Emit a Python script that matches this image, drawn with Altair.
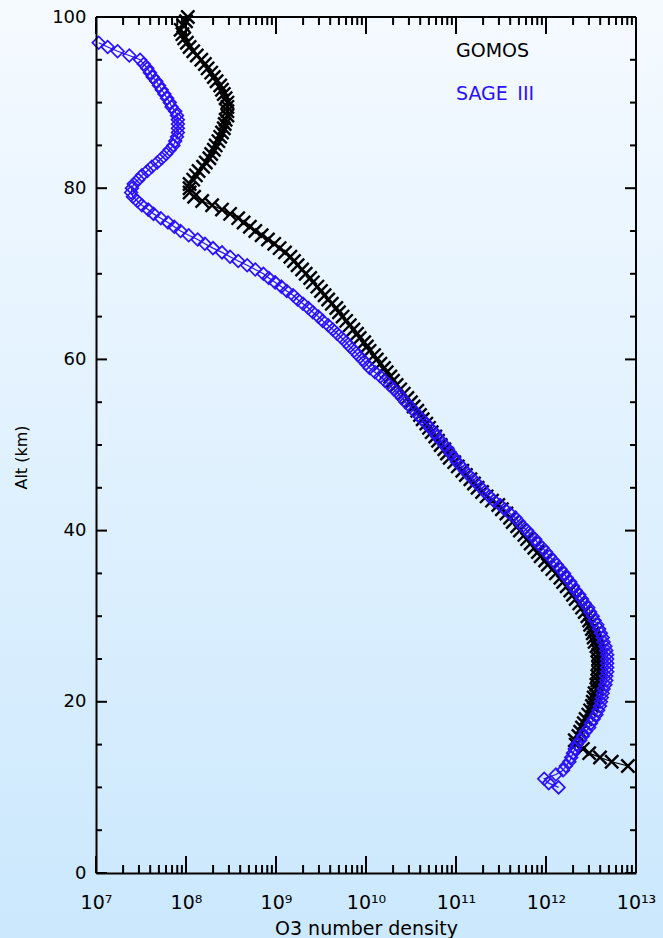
import altair as alt
import numpy as np
import pandas as pd

# ---------------- data ----------------
gomos_alt = [
    12.5, 13.0, 13.5, 14.0, 14.5, 15.0, 15.5, 16.0, 16.5, 17.0,
    17.5, 18.0, 18.5, 19.0, 19.5, 20.0, 20.5, 21.0, 21.5, 22.0,
    22.5, 23.0, 23.5, 24.0, 24.5, 25.0, 25.5, 26.0, 26.5, 27.0,
    27.5, 28.0, 28.5, 29.0, 29.5, 30.0, 30.5, 31.0, 31.5, 32.0,
    32.5, 33.0, 33.5, 34.0, 34.5, 35.0, 35.5, 36.0, 36.5, 37.0,
    37.5, 38.0, 38.5, 39.0, 39.5, 40.0, 40.5, 41.0, 41.5, 42.0,
    42.5, 43.0, 43.5, 44.0, 44.5, 45.0, 45.5, 46.0, 46.5, 47.0,
    47.5, 48.0, 48.5, 49.0, 49.5, 50.0, 50.5, 51.0, 51.5, 52.0,
    52.5, 53.0, 53.5, 54.0, 54.5, 55.0, 55.5, 56.0, 56.5, 57.0,
    57.5, 58.0, 58.5, 59.0, 59.5, 60.0, 60.5, 61.0, 61.5, 62.0,
    62.5, 63.0, 63.5, 64.0, 64.5, 65.0, 65.5, 66.0, 66.5, 67.0,
    67.5, 68.0, 68.5, 69.0, 69.5, 70.0, 70.5, 71.0, 71.5, 72.0,
    72.5, 73.0, 73.5, 74.0, 74.5, 75.0, 75.5, 76.0, 76.5, 77.0,
    77.5, 78.0, 78.5, 79.0, 79.5, 80.0, 80.5, 81.0, 81.5, 82.0,
    82.5, 83.0, 83.5, 84.0, 84.5, 85.0, 85.5, 86.0, 86.5, 87.0,
    87.5, 88.0, 88.5, 89.0, 89.5, 90.0, 90.5, 91.0, 91.5, 92.0,
    92.5, 93.0, 93.5, 94.0, 94.5, 95.0, 95.5, 96.0, 96.5, 97.0,
    97.5, 98.0, 98.5, 99.0, 99.5, 100.0,
]
gomos_log10 = [
    12.91, 12.73, 12.60, 12.48, 12.41, 12.33, 12.32, 12.36, 12.38, 12.40,
    12.42, 12.44, 12.47, 12.49, 12.51, 12.52, 12.53, 12.54, 12.56, 12.56,
    12.57, 12.57, 12.58, 12.58, 12.58, 12.58, 12.58, 12.57, 12.56, 12.54,
    12.53, 12.52, 12.51, 12.49, 12.48, 12.46, 12.43, 12.40, 12.37, 12.33,
    12.30, 12.27, 12.23, 12.19, 12.16, 12.11, 12.07, 12.02, 11.99, 11.94,
    11.91, 11.87, 11.83, 11.79, 11.76, 11.71, 11.68, 11.63, 11.60, 11.56,
    11.51, 11.47, 11.40, 11.34, 11.29, 11.24, 11.20, 11.16, 11.11, 11.07,
    11.02, 10.98, 10.93, 10.90, 10.87, 10.83, 10.80, 10.77, 10.73, 10.70,
    10.67, 10.63, 10.60, 10.57, 10.53, 10.50, 10.46, 10.42, 10.38, 10.34,
    10.30, 10.27, 10.23, 10.20, 10.16, 10.12, 10.09, 10.04, 10.01, 9.98,
    9.93, 9.90, 9.86, 9.82, 9.78, 9.74, 9.70, 9.67, 9.62, 9.58,
    9.54, 9.50, 9.46, 9.41, 9.38, 9.33, 9.29, 9.24, 9.20, 9.16,
    9.10, 9.04, 8.98, 8.91, 8.84, 8.77, 8.71, 8.64, 8.58, 8.49,
    8.40, 8.29, 8.18, 8.09, 8.04, 8.04, 8.04, 8.08, 8.11, 8.14,
    8.19, 8.22, 8.26, 8.28, 8.31, 8.33, 8.36, 8.38, 8.40, 8.42,
    8.43, 8.44, 8.46, 8.46, 8.46, 8.46, 8.44, 8.42, 8.40, 8.38,
    8.34, 8.31, 8.28, 8.24, 8.21, 8.17, 8.12, 8.08, 8.04, 8.01,
    7.98, 7.96, 7.94, 7.97, 8.00, 8.02,
]

sage_alt = [
    10.0, 10.5, 11.0, 11.5, 12.0, 12.5, 13.0, 13.5, 14.0, 14.5,
    15.0, 15.5, 16.0, 16.5, 17.0, 17.5, 18.0, 18.5, 19.0, 19.5,
    20.0, 20.5, 21.0, 21.5, 22.0, 22.5, 23.0, 23.5, 24.0, 24.5,
    25.0, 25.5, 26.0, 26.5, 27.0, 27.5, 28.0, 28.5, 29.0, 29.5,
    30.0, 30.5, 31.0, 31.5, 32.0, 32.5, 33.0, 33.5, 34.0, 34.5,
    35.0, 35.5, 36.0, 36.5, 37.0, 37.5, 38.0, 38.5, 39.0, 39.5,
    40.0, 40.5, 41.0, 41.5, 42.0, 42.5, 43.0, 43.5, 44.0, 44.5,
    45.0, 45.5, 46.0, 46.5, 47.0, 47.5, 48.0, 48.5, 49.0, 49.5,
    50.0, 50.5, 51.0, 51.5, 52.0, 52.5, 53.0, 53.5, 54.0, 54.5,
    55.0, 55.5, 56.0, 56.5, 57.0, 57.5, 58.0, 58.5, 59.0, 59.5,
    60.0, 60.5, 61.0, 61.5, 62.0, 62.5, 63.0, 63.5, 64.0, 64.5,
    65.0, 65.5, 66.0, 66.5, 67.0, 67.5, 68.0, 68.5, 69.0, 69.5,
    70.0, 70.5, 71.0, 71.5, 72.0, 72.5, 73.0, 73.5, 74.0, 74.5,
    75.0, 75.5, 76.0, 76.5, 77.0, 77.5, 78.0, 78.5, 79.0, 79.5,
    80.0, 80.5, 81.0, 81.5, 82.0, 82.5, 83.0, 83.5, 84.0, 84.5,
    85.0, 85.5, 86.0, 86.5, 87.0, 87.5, 88.0, 88.5, 89.0, 89.5,
    90.0, 90.5, 91.0, 91.5, 92.0, 92.5, 93.0, 93.5, 94.0, 94.5,
    95.0, 95.5, 96.0, 96.5, 97.0,
]
sage_log10 = [
    12.14, 12.03, 11.98, 12.11, 12.19, 12.22, 12.26, 12.28, 12.30, 12.32,
    12.34, 12.38, 12.41, 12.44, 12.48, 12.50, 12.53, 12.56, 12.58, 12.60,
    12.61, 12.62, 12.63, 12.64, 12.66, 12.67, 12.67, 12.68, 12.68, 12.68,
    12.68, 12.68, 12.67, 12.66, 12.64, 12.63, 12.61, 12.59, 12.57, 12.54,
    12.52, 12.49, 12.47, 12.43, 12.40, 12.37, 12.33, 12.30, 12.27, 12.23,
    12.20, 12.16, 12.12, 12.08, 12.04, 12.00, 11.96, 11.91, 11.88, 11.83,
    11.79, 11.74, 11.70, 11.66, 11.60, 11.54, 11.49, 11.42, 11.37, 11.32,
    11.28, 11.23, 11.19, 11.14, 11.10, 11.06, 11.01, 10.98, 10.94, 10.91,
    10.87, 10.83, 10.79, 10.76, 10.71, 10.67, 10.62, 10.58, 10.53, 10.49,
    10.44, 10.40, 10.36, 10.31, 10.26, 10.21, 10.16, 10.10, 10.04, 10.00,
    9.96, 9.91, 9.87, 9.82, 9.78, 9.73, 9.68, 9.63, 9.58, 9.52,
    9.47, 9.41, 9.36, 9.30, 9.24, 9.19, 9.12, 9.06, 8.99, 8.92,
    8.86, 8.77, 8.68, 8.58, 8.49, 8.40, 8.30, 8.21, 8.13, 8.03,
    7.94, 7.87, 7.80, 7.72, 7.64, 7.58, 7.51, 7.46, 7.41, 7.39,
    7.40, 7.42, 7.47, 7.51, 7.57, 7.62, 7.68, 7.73, 7.78, 7.82,
    7.86, 7.88, 7.90, 7.91, 7.91, 7.91, 7.91, 7.90, 7.88, 7.84,
    7.82, 7.79, 7.76, 7.73, 7.70, 7.67, 7.63, 7.60, 7.57, 7.53,
    7.49, 7.37, 7.24, 7.13, 7.03,
]

x_major = [1e7, 1e8, 1e9, 1e10, 1e11, 1e12, 1e13]
x_labels = ["10\u2077", "10\u2078", "10\u2079", "10\u00b9\u2070",
            "10\u00b9\u00b9", "10\u00b9\u00b2", "10\u00b9\u00b3"]
x_minor = [m * 10.0 ** e for e in range(7, 13) for m in range(2, 10)]
y_major = [0, 20, 40, 60, 80, 100]
y_minor = [5, 10, 15, 25, 30, 35, 45, 50, 55, 65, 70, 75, 85, 90, 95]
legend_labels = ["GOMOS", "SAGE\u2002III"]

# ---------------- styling ----------------
FONT = "DejaVu Sans"
BLUE = "#2b10ff"
W, H = 540, 856
CROSS = "M-1,-1L1,1M-1,1L1,-1"

gomos = pd.DataFrame({"alt": gomos_alt, "density": 10.0 ** np.array(gomos_log10)})
sage = pd.DataFrame({"alt": sage_alt, "density": 10.0 ** np.array(sage_log10)})

xscale = alt.Scale(type="log", domain=[1e7, 1e13], nice=False)
yscale = alt.Scale(domain=[0, 100], nice=False, zero=False)

expo = "round(log(datum.value)/LN10)"
label_expr = "".join(f"{expo} == {7 + i} ? '{lab}' : " for i, lab in enumerate(x_labels)) + "''"

common = dict(grid=False, zindex=1, domainColor="black", domainWidth=2,
              ticks=False, tickSize=0, domain=True, labelFlush=False,
              labelOverlap=False, labelColor="black", labelFont=FONT,
              titleFont=FONT, titleFontWeight="normal", titleColor="black")

x_label_axis = alt.Axis(
    orient="bottom", values=x_major, labelExpr=label_expr,
    labelFontSize=19, labelPadding=20,
    title="O3 number density", titleFontSize=19, titlePadding=7, **common)
y_label_axis = alt.Axis(
    orient="left", values=y_major, labelFontSize=18, labelPadding=10,
    title="Alt (km)", titleFontSize=16, titlePadding=22, titleY=440, **common)

gradient = alt.Gradient(
    gradient="linear", x1=0, x2=0, y1=0, y2=1,
    stops=[alt.GradientStop(color="#f5faff", offset=0),
           alt.GradientStop(color="#cbe8fd", offset=1)])

bg = alt.Chart(pd.DataFrame({"k": [0]})).mark_rect(fill=gradient).encode(
    x=alt.value(-96), x2=alt.value(W + 27), y=alt.value(-17), y2=alt.value(H + 65))

g_line = alt.Chart(gomos).mark_line(color="black", strokeWidth=1.2).encode(
    x=alt.X("density:Q", scale=xscale, axis=x_label_axis),
    y=alt.Y("alt:Q", scale=yscale, axis=y_label_axis),
    order="alt:Q")
g_pts = alt.Chart(gomos).mark_point(shape=CROSS, size=175, strokeWidth=2.4,
                                    color="black", filled=False, opacity=1).encode(
    x=alt.X("density:Q", scale=xscale, axis=x_label_axis),
    y=alt.Y("alt:Q", scale=yscale, axis=y_label_axis))
s_line = alt.Chart(sage).mark_line(color=BLUE, strokeWidth=1.2).encode(
    x=alt.X("density:Q", scale=xscale, axis=x_label_axis),
    y=alt.Y("alt:Q", scale=yscale, axis=y_label_axis),
    order="alt:Q")
s_pts = alt.Chart(sage).mark_point(shape="diamond", size=160, strokeWidth=1.7,
                                   color=BLUE, filled=False, opacity=1).encode(
    x=alt.X("density:Q", scale=xscale, axis=x_label_axis),
    y=alt.Y("alt:Q", scale=yscale, axis=y_label_axis))


# inward-pointing tick marks on all four sides, placed through the scales
def xticks(values, y0, y1):
    return alt.Chart(pd.DataFrame({"density": values})).mark_rule(
        color="black", strokeWidth=2).encode(
        x=alt.X("density:Q", scale=xscale, axis=x_label_axis),
        y=alt.value(y0), y2=alt.value(y1))


def yticks(values, x0, x1):
    return alt.Chart(pd.DataFrame({"alt": values})).mark_rule(
        color="black", strokeWidth=2).encode(
        y=alt.Y("alt:Q", scale=yscale, axis=y_label_axis),
        x=alt.value(x0), x2=alt.value(x1))


ticks = [
    xticks(x_major, H, H - 17), xticks(x_minor, H, H - 8),
    xticks(x_major, 0, 17), xticks(x_minor, 0, 8),
    yticks(y_major, 0, 11), yticks(y_minor, 0, 6),
    yticks(y_major, W, W - 11), yticks(y_minor, W, W - 6),
    # top and right edges of the frame (at 100 km and at 10^13)
    yticks(y_major[-1:], 0, W), xticks(x_major[-1:], 0, H),
]

leg1 = alt.Chart(pd.DataFrame({"label": legend_labels[:1]})).mark_text(
    font=FONT, fontSize=19, align="left", baseline="alphabetic", color="black").encode(
    text="label:N", x=alt.value(360), y=alt.value(40))
leg2 = alt.Chart(pd.DataFrame({"label": legend_labels[1:]})).mark_text(
    font=FONT, fontSize=19, align="left", baseline="alphabetic", color=BLUE).encode(
    text="label:N", x=alt.value(360), y=alt.value(83))

chart = alt.layer(bg, g_line, g_pts, s_line, s_pts, *ticks, leg1, leg2).properties(
    width=W, height=H,
    autosize=alt.AutoSizeParams(type="none"),
    padding={"left": 96, "top": 17, "right": 27, "bottom": 65},
).configure(background="#cbe8fd").configure_view(strokeWidth=0)

chart.save("out.html", embed_options={"renderer": "svg", "actions": False})
